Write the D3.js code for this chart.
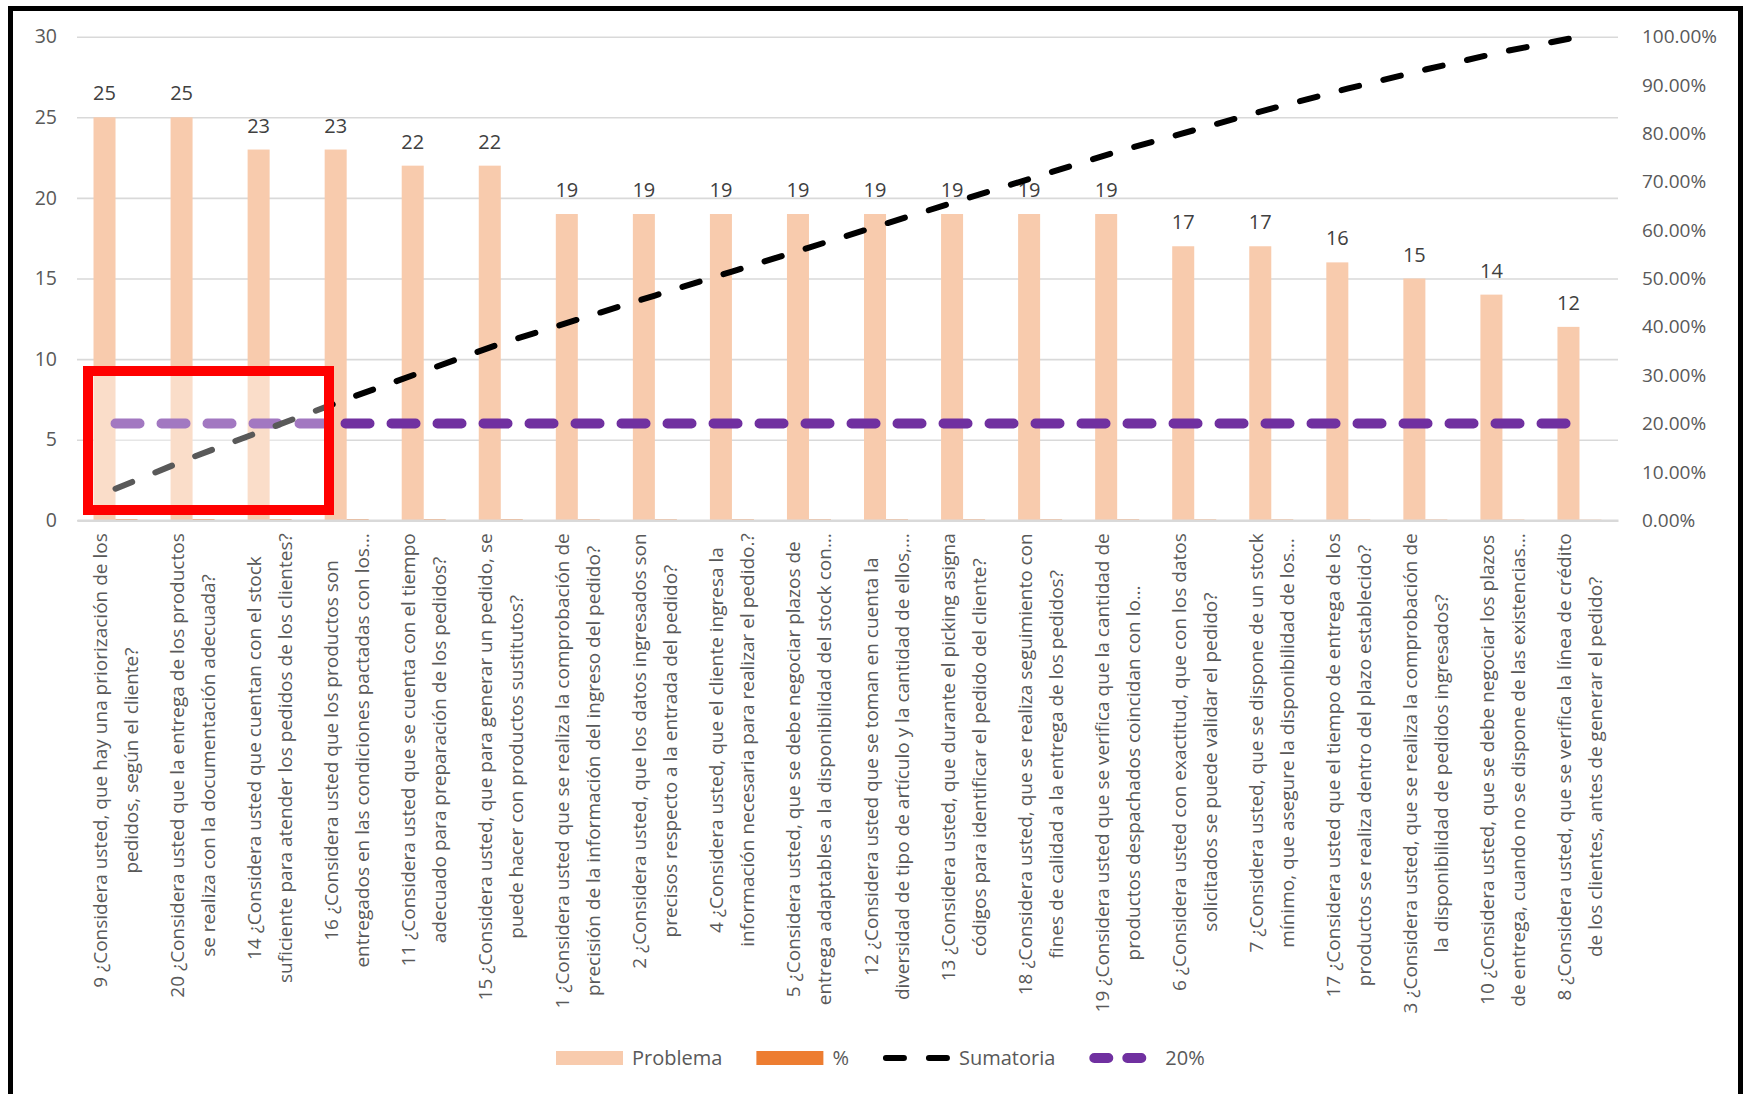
<!DOCTYPE html>
<html>
<head>
<meta charset="utf-8">
<script src="https://cdn.jsdelivr.net/npm/d3@7"></script>
<style>
  body { margin: 0; background: #fff; }
  svg text { font-family: "Open Sans", "Liberation Sans", sans-serif; }
</style>
</head>
<body>
<svg id="chart" width="1745" height="1094"></svg>
<script>
// categories (two lines per label, as in the picture)
const categories = [
  ["9 ¿Considera usted, que hay una priorización de los", "pedidos,  según el cliente?"],
  ["20 ¿Considera usted que la entrega de los productos", "se realiza con la documentación adecuada?"],
  ["14 ¿Considera usted que cuentan con el stock", "suficiente para atender los pedidos de los clientes?"],
  ["16 ¿Considera usted que los productos son", "entregados en las condiciones pactadas con los…"],
  ["11 ¿Considera usted que se cuenta con el tiempo", "adecuado para preparación de los pedidos?"],
  ["15 ¿Considera usted, que para generar un pedido, se", "puede hacer con productos sustitutos?"],
  ["1 ¿Considera usted que se realiza la comprobación de", "precisión de la información del ingreso del pedido?"],
  ["2 ¿Considera usted, que los datos ingresados son", "precisos respecto a la entrada del pedido?"],
  ["4 ¿Considera usted, que el cliente ingresa la", "información necesaria para realizar el pedido.?"],
  ["5 ¿Considera usted, que se debe negociar plazos de", "entrega adaptables a la disponibilidad del stock con…"],
  ["12 ¿Considera usted que se toman en cuenta la", "diversidad de tipo de artículo y la cantidad de ellos,…"],
  ["13 ¿Considera usted, que durante el picking asigna", "códigos para identificar el pedido del cliente?"],
  ["18 ¿Considera usted, que se realiza seguimiento con", "fines de calidad a la entrega de los pedidos?"],
  ["19 ¿Considera usted que se verifica que la cantidad de", "productos despachados coincidan con lo…"],
  ["6 ¿Considera usted con exactitud, que con los datos", "solicitados se puede validar el pedido?"],
  ["7 ¿Considera usted, que se dispone de un stock", "mínimo, que asegure la disponibilidad de los…"],
  ["17 ¿Considera usted que el tiempo de entrega de los", "productos se realiza dentro del plazo establecido?"],
  ["3 ¿Considera usted, que se realiza la comprobación de", "la disponibilidad de pedidos ingresados?"],
  ["10 ¿Considera usted, que se debe negociar los plazos", "de entrega, cuando no se dispone de las existencias…"],
  ["8 ¿Considera usted, que se verifica la línea de crédito", "de los clientes, antes de generar el pedido?"]
];

const problema  = [25, 25, 23, 23, 22, 22, 19, 19, 19, 19, 19, 19, 19, 19, 17, 17, 16, 15, 14, 12];
const porcentaje = [0.0653, 0.0653, 0.0601, 0.0601, 0.0574, 0.0574, 0.0496, 0.0496, 0.0496, 0.0496,
                    0.0496, 0.0496, 0.0496, 0.0496, 0.0444, 0.0444, 0.0418, 0.0392, 0.0366, 0.0313];
const sumatoria = [0.0653, 0.1305, 0.1906, 0.2507, 0.3081, 0.3655, 0.4151, 0.4648, 0.5144, 0.5640,
                   0.6136, 0.6632, 0.7128, 0.7624, 0.8068, 0.8512, 0.8930, 0.9321, 0.9687, 1.0000];
const limite20  = [0.2, 0.2, 0.2, 0.2, 0.2, 0.2, 0.2, 0.2, 0.2, 0.2,
                   0.2, 0.2, 0.2, 0.2, 0.2, 0.2, 0.2, 0.2, 0.2, 0.2];

const leftTicks  = [0, 5, 10, 15, 20, 25, 30];
const rightTicks = [0, 0.1, 0.2, 0.3, 0.4, 0.5, 0.6, 0.7, 0.8, 0.9, 1];
const legendItems = ["Problema", "%", "Sumatoria", "20%"];

const svg = d3.select("#chart");
const pLeft = 77, pRight = 1618, pTop = 36.7, pBottom = 520.3;

const idx = d3.range(categories.length);
const x = d3.scaleBand().domain(idx).range([pLeft, pRight]);
const barW = x.bandwidth() / 3.5;
const cx = i => x(i) + x.bandwidth() / 2;
const yL = d3.scaleLinear().domain([0, 30]).range([pBottom, pTop]);
const yR = d3.scaleLinear().domain([0, 1]).range([pBottom, pTop]);

// outer frame
svg.append("rect")
  .attr("x", 10.5).attr("y", 8.5)
  .attr("width", 1730).attr("height", 1110)
  .attr("fill", "#fff").attr("stroke", "#000").attr("stroke-width", 5);

// gridlines
svg.append("g")
  .attr("transform", `translate(${pLeft},0)`)
  .call(d3.axisLeft(yL).tickValues(leftTicks).tickSize(-(pRight - pLeft)).tickFormat(""))
  .call(g => g.select(".domain").remove())
  .call(g => g.selectAll("line").attr("stroke", "#d9d9d9").attr("stroke-width", 1.6));

// left axis labels
svg.append("g")
  .attr("transform", `translate(${pLeft},0)`)
  .call(d3.axisLeft(yL).tickValues(leftTicks).tickSize(0).tickPadding(20))
  .call(g => g.select(".domain").remove())
  .call(g => g.selectAll("text").attr("fill", "#595959").style("font-size", "19.5px"));

// right axis labels
svg.append("g")
  .attr("transform", `translate(${pRight},0)`)
  .call(d3.axisRight(yR).tickValues(rightTicks).tickSize(0).tickPadding(24).tickFormat(d3.format(".2%")))
  .call(g => g.select(".domain").remove())
  .call(g => g.selectAll("text").attr("fill", "#595959").style("font-size", "19px"));

// bars
svg.append("g").selectAll("rect")
  .data(problema)
  .join("rect")
  .attr("x", (d, i) => cx(i) - barW)
  .attr("y", d => yL(d))
  .attr("width", barW)
  .attr("height", d => pBottom - yL(d))
  .attr("fill", "#f8cbad");

svg.append("g").selectAll("rect")
  .data(porcentaje)
  .join("rect")
  .attr("x", (d, i) => cx(i))
  .attr("y", d => yL(d))
  .attr("width", barW)
  .attr("height", d => pBottom - yL(d))
  .attr("fill", "#ed7d31");

// category axis line over the bars
svg.append("g")
  .attr("transform", `translate(0,${pBottom})`)
  .call(d3.axisBottom(x).tickSize(0).tickFormat(""))
  .call(g => g.select(".domain").attr("stroke", "#d9d9d9").attr("stroke-width", 2.4));

// data labels
svg.append("g").selectAll("text")
  .data(problema)
  .join("text")
  .attr("x", (d, i) => cx(i) - barW / 2)
  .attr("y", d => yL(d) - 17)
  .attr("text-anchor", "middle")
  .attr("fill", "#404040")
  .style("font-size", "20px")
  .text(d => d);

// lines
const line = d3.line().x((d, i) => cx(i)).y(d => yR(d));

svg.append("path")
  .attr("d", line(limite20))
  .attr("fill", "none")
  .attr("stroke", "#7030a0")
  .attr("stroke-width", 10)
  .attr("stroke-linecap", "round")
  .attr("stroke-dasharray", "24,22");

svg.append("path")
  .attr("d", line(sumatoria))
  .attr("fill", "none")
  .attr("stroke", "#000")
  .attr("stroke-width", 6)
  .attr("stroke-linecap", "round")
  .attr("stroke-dasharray", "18,25");

// x labels, rotated, centred lines, top aligned under the axis
const labels = svg.append("g").selectAll("g")
  .data(categories)
  .join("g")
  .attr("transform", (d, i) => `translate(${cx(i)},${pBottom + 13}) rotate(-90)`);

labels.each(function(lines) {
  const g = d3.select(this);
  const texts = g.selectAll("text")
    .data(lines)
    .join("text")
    .attr("y", (d, j) => (j - 0.5) * 31)
    .attr("dominant-baseline", "central")
    .attr("text-anchor", "middle")
    .attr("fill", "#595959")
    .style("font-size", "19px")
    .text(d => d);
  const maxLen = d3.max(texts.nodes(), n => n.getComputedTextLength());
  texts.attr("x", -maxLen / 2);
});

// highlight box
const box = { x0: 88, y0: 371, x1: 329, y1: 510 };
svg.append("rect")
  .attr("x", box.x0 + 5).attr("y", box.y0 + 5)
  .attr("width", box.x1 - box.x0 - 10).attr("height", box.y1 - box.y0 - 10)
  .attr("fill", "#fff").attr("opacity", 0.35);
svg.append("rect")
  .attr("x", box.x0).attr("y", box.y0)
  .attr("width", box.x1 - box.x0).attr("height", box.y1 - box.y0)
  .attr("fill", "none").attr("stroke", "#ff0000").attr("stroke-width", 10);

// legend
const leg = svg.append("g").attr("transform", "translate(0,1058)");
let lx = 556;
legendItems.forEach((name, k) => {
  const it = leg.append("g").attr("transform", `translate(${lx},0)`);
  if (k === 0 || k === 1) {
    it.append("rect").attr("x", 0).attr("y", -7).attr("width", 67).attr("height", 14)
      .attr("fill", k === 0 ? "#f8cbad" : "#ed7d31");
  } else if (k === 2) {
    it.append("path").attr("d", "M3,0H64").attr("stroke", "#000").attr("stroke-width", 6)
      .attr("stroke-linecap", "round").attr("stroke-dasharray", "18,25");
  } else {
    it.append("path").attr("d", "M5,0H62").attr("stroke", "#7030a0").attr("stroke-width", 10)
      .attr("stroke-linecap", "round").attr("stroke-dasharray", "14,19");
  }
  const t = it.append("text").attr("x", 76).attr("dy", "0.35em")
    .attr("fill", "#595959").style("font-size", "20px").text(name);
  lx += 76 + t.node().getComputedTextLength() + 34;
});
</script>
</body>
</html>
